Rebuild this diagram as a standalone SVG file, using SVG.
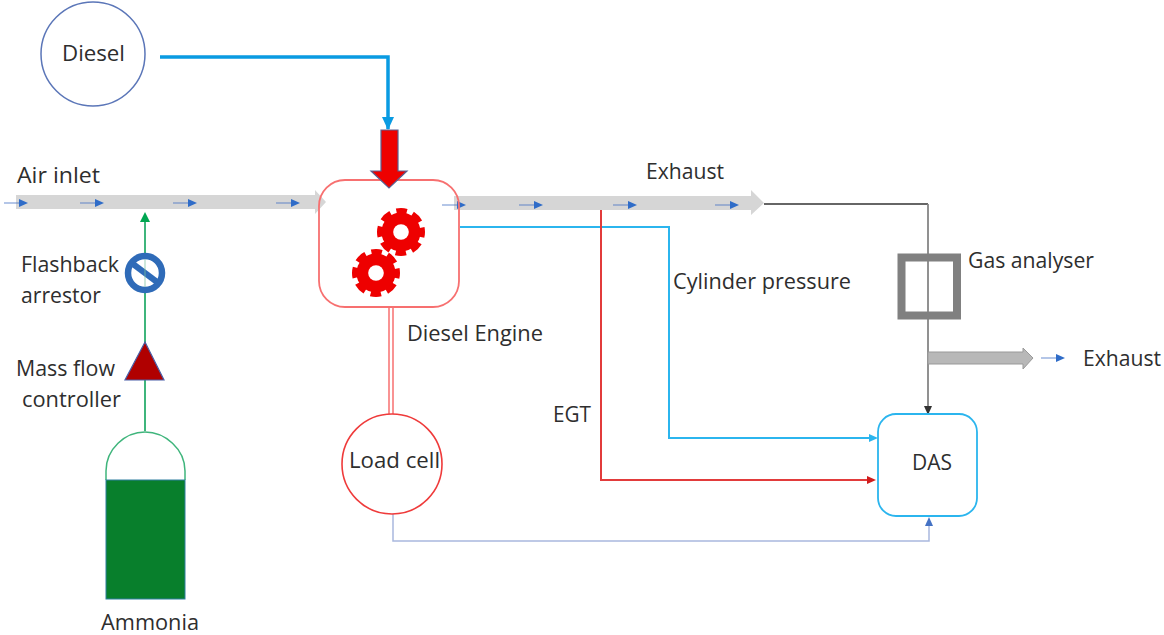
<svg xmlns="http://www.w3.org/2000/svg" width="1164" height="635" viewBox="0 0 1164 635">
<style>
text{font-family:"Open Sans","Noto Sans","Liberation Sans",sans-serif;font-size:21.5px;fill:#2e2e2e}
.flow{stroke:#4472c4;stroke-width:1;fill:none;opacity:.8}
.head{fill:#2f6cc8}
</style>
<defs>
<g id="fl"><path class="flow" d="M-14 0H6"/><path class="head" d="M1-4L10 0L1 4Z"/></g>
<g id="gear"><circle r="19.5" fill="#ee0000"/><circle r="21" fill="none" stroke="#ee0000" stroke-width="6" stroke-dasharray="10.5 5.99" stroke-dashoffset="5.25"/><circle r="7.8" fill="#fff"/></g>
</defs>
<rect width="1164" height="635" fill="#fff"/>
<g id="connectors" fill="none">
<path d="M160 57H388V129" stroke="#0a9be2" stroke-width="3.5"/>
<path d="M382 117H394L388 130Z" fill="#0a9be2"/>
<path d="M145 431V220" stroke="#3fb57c" stroke-width="2"/>
<path d="M140 222L145 212L150 222Z" fill="#00a651"/>
<path d="M389 308V416M393 308V416" stroke="#f77070" stroke-width="1.5"/>
<path d="M460 227H669V438H872" stroke="#2bb5ee" stroke-width="2"/>
<path d="M869 434L878 438L869 442Z" fill="#2bb5ee"/>
<path d="M601 207V480H870" stroke="#e23b3b" stroke-width="2"/>
<path d="M867 476L876 480L867 484Z" fill="#d01c1c"/>
<path d="M393 514V541H929V524" stroke="#a9b8de" stroke-width="1.5"/>
<path d="M925 526L929 517L933 526Z" fill="#4472c4"/>
<path d="M764 204H928" stroke="#333" stroke-width="1.5"/>
<path d="M928 204V408" stroke="#858585" stroke-width="1.8"/>
<path d="M924 406L928 415L932 406Z" fill="#333"/>
</g>
<g id="air-inlet">
<path d="M16 195H315V190L326 202L315 214V209H16Z" fill="#d6d6d6"/>
<use href="#fl" x="18" y="203"/><use href="#fl" x="94" y="203"/><use href="#fl" x="187" y="203"/><use href="#fl" x="290" y="203"/>
<text x="17" y="183" textLength="83" lengthAdjust="spacingAndGlyphs">Air inlet</text>
</g>
<g id="exhaust">
<path d="M454 196H751V190L764 203L751 215V210H454Z" fill="#d6d6d6"/>
<use href="#fl" x="456" y="205"/><use href="#fl" x="533" y="205"/><use href="#fl" x="627" y="205"/><use href="#fl" x="729" y="205"/>
<text x="646" y="179" textLength="78" lengthAdjust="spacingAndGlyphs">Exhaust</text>
</g>
<g id="diesel"><circle cx="93" cy="54" r="52" fill="#fff" stroke="#5b76b8" stroke-width="1.5"/><text x="62" y="61" textLength="63" lengthAdjust="spacingAndGlyphs">Diesel</text></g>
<g id="engine">
<rect x="319" y="180" width="140" height="127" rx="26" fill="none" stroke="#f77070" stroke-width="1.8"/>
<use href="#gear" x="401" y="232"/><use href="#gear" x="376" y="273"/>
<path d="M381 130H398V171H407L389 188L371 171H381Z" fill="#ee0000" stroke="#5a5f90" stroke-width="1.2"/>
<text x="407" y="341" textLength="136" lengthAdjust="spacingAndGlyphs">Diesel Engine</text>
</g>
<g id="load-cell"><circle cx="392" cy="464" r="50" fill="#fff" stroke="#ef3b3b" stroke-width="1.6"/><text x="349" y="468" textLength="91" lengthAdjust="spacingAndGlyphs">Load cell</text></g>
<g id="flashback"><circle cx="145" cy="273" r="17" fill="#fff" stroke="#2f6bb8" stroke-width="6.5"/><path d="M133 264L157 282" stroke="#2f6bb8" stroke-width="6"/><path d="M145 259V287" stroke="#7cc4a0" stroke-width="1.5" opacity=".5"/><text x="21" y="272" textLength="98" lengthAdjust="spacingAndGlyphs">Flashback</text><text x="21" y="303" textLength="80" lengthAdjust="spacingAndGlyphs">arrestor</text></g>
<g id="mfc"><path d="M145 342L164 380H125Z" fill="#b00000" stroke="#4a5fa8" stroke-width="1.2"/><text x="16" y="376" textLength="99" lengthAdjust="spacingAndGlyphs">Mass flow</text><text x="22" y="407" textLength="99" lengthAdjust="spacingAndGlyphs">controller</text></g>
<g id="ammonia">
<path d="M106 480V471C106 449 125 432 145 432C165 432 185 449 185 471V480" fill="#fff" stroke="#3fb57c" stroke-width="1.5"/>
<rect x="106" y="480" width="79" height="119" fill="#087f2c" stroke="#2f7fa0" stroke-width="1"/>
<text x="101" y="630" textLength="98" lengthAdjust="spacingAndGlyphs">Ammonia</text>
</g>
<g id="gas-analyser">
<rect x="901.5" y="257.5" width="55.5" height="58" fill="none" stroke="#808080" stroke-width="8"/>
<text x="968" y="268" textLength="126" lengthAdjust="spacingAndGlyphs">Gas analyser</text>
</g>
<g id="exhaust-out">
<path d="M928 352H1023V348L1033 358L1023 369V364H928Z" fill="#b8b8b8" stroke="#999" stroke-width="1"/>
<use href="#fl" x="1055" y="358"/>
<text x="1083" y="366" textLength="78" lengthAdjust="spacingAndGlyphs">Exhaust</text>
</g>
<g id="cylinder-label"><text x="673" y="289" textLength="178" lengthAdjust="spacingAndGlyphs">Cylinder pressure</text></g>
<g id="egt-label"><text x="553" y="422" textLength="38" lengthAdjust="spacingAndGlyphs">EGT</text></g>
<g id="das"><rect x="878" y="414" width="99" height="102" rx="18" fill="#fff" stroke="#2bb5ee" stroke-width="1.8"/><text x="912" y="470" textLength="40" lengthAdjust="spacingAndGlyphs">DAS</text></g>
</svg>
